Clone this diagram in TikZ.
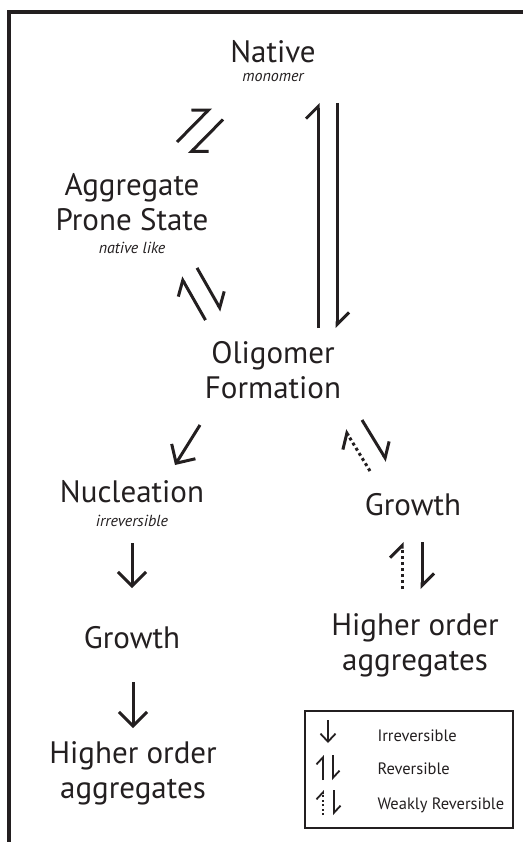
\documentclass[tikz,border=0pt]{standalone}
\usepackage{fontspec}
\setmainfont{PT Sans}
\usetikzlibrary{arrows.meta,calc,positioning}
\definecolor{ink}{HTML}{231F20}

\begin{document}
\begin{tikzpicture}[x=1pt, y=-1pt, draw=ink, line width=3pt,
   state/.style={text=ink, font=\fontsize{31}{35}\selectfont, align=center, inner sep=0pt, anchor=base},
   note/.style={text=ink, font=\fontsize{16}{18}\selectfont\itshape, inner sep=0pt, anchor=base},
   keytext/.style={text=ink, font=\fontsize{16.5}{18}\selectfont, inner sep=0pt, anchor=base west},
   oneway/.style={-{Straight Barb[length=14pt, width=28pt]}},
   harp/.style={-{Straight Barb[left, length=12pt, width=24pt]}},
   weak/.style={harp, dash pattern=on 3pt off 3pt},
   keyway/.style={line width=1.8pt, -{Straight Barb[length=8pt, width=15pt]}},
   keyharp/.style={line width=1.8pt, -{Straight Barb[left, length=7pt, width=13pt]}}]
   \useasboundingbox (0,0) rectangle (523,842);
   \draw[line width=3.5pt] (9,842) -- (9,12) -- (523,12);

   % states (base = last line)
   \node[state] (native) at (273,63) {Native};
   \node[note] (monomer) at (273,82) {monomer};
   \node[state] (aps) at (132,230) {Aggregate\\Prone State};
   \node[note] (nativelike) at (132,253) {native like};
   \node[state] (oligomer) at (273,398) {Oligomer\\Formation};
   \node[state] (nucleation) at (132,502) {Nucleation};
   \node[note] (irrev) at (132,526) {irreversible};
   \node[state] (growthL) at (132,648) {Growth};
   \node[state] (higherL) at (133,798) {Higher order\\aggregates};
   \node[state] (growthR) at (413,515) {Growth};
   \node[state] (higherR) at (415,670) {Higher order\\aggregates};

   % arrow ends
   \coordinate (na-top) at (217,113.5);
   \coordinate (na-bot) at (183,148);
   \coordinate (ao-top) at (189,272.5);
   \coordinate (ao-bot) at (213.5,315.5);
   \coordinate (no-top) at (327.5,103);
   \coordinate (no-bot) at (327.5,328);
   \coordinate (og-top) at (353.5,425);
   \coordinate (og-bot) at (378.5,466);
   \coordinate (gh-top) at (412,542);
   \coordinate (gh-bot) at (412,589);
   \coordinate (on-top) at (200,425);
   \coordinate (on-bot) at (175,465);
   \coordinate (ng-top) at (132,543);
   \coordinate (ng-bot) at (132,588);
   \coordinate (gh2-top) at (133,682);
   \coordinate (gh2-bot) at (133,728);

   \draw[harp] ($(na-bot)+(-6,-6)$) -- ($(na-top)+(-6,-6)$);
   \draw[harp] ($(na-top)+(6,6)$) -- ($(na-bot)+(6,6)$);
   \draw[harp] ($(ao-bot)+(-8,4.6)$) -- ($(ao-top)+(-8,4.6)$);
   \draw[harp] ($(ao-top)+(8,-4.6)$) -- ($(ao-bot)+(8,-4.6)$);
   \draw[harp] ($(no-bot)+(-9.5,0)$) -- ($(no-top)+(-9.5,0)$);
   \draw[harp] ($(no-top)+(9.5,0)$) -- ($(no-bot)+(9.5,0)$);
   \draw[weak] ($(og-bot)+(-8.5,5)$) -- ($(og-top)+(-8.5,5)$);
   \draw[harp] ($(og-top)+(8.5,-5)$) -- ($(og-bot)+(8.5,-5)$);
   \draw[weak] ($(gh-bot)+(-10,0)$) -- ($(gh-top)+(-10,0)$);
   \draw[harp] ($(gh-top)+(10,0)$) -- ($(gh-bot)+(10,0)$);
   \draw[oneway] (on-top) -- (on-bot);
   \draw[oneway] (ng-top) -- (ng-bot);
   \draw[oneway] (gh2-top) -- (gh2-bot);

   % key
   \node[draw, line width=1.5pt, minimum width=208pt, minimum height=117pt, inner sep=0pt] (key) at (409,769.5) {};
   \coordinate (k1-top) at (328,720);
   \coordinate (k1-bot) at (328,743);
   \coordinate (k2-top) at (328,755);
   \coordinate (k2-bot) at (328,780);
   \coordinate (k3-top) at (328.5,790);
   \coordinate (k3-bot) at (328.5,815);
   \draw[keyway] (k1-top) -- (k1-bot);
   \draw[keyharp] ($(k2-bot)+(-5,0)$) -- ($(k2-top)+(-5,0)$);
   \draw[keyharp] ($(k2-top)+(5,0)$) -- ($(k2-bot)+(5,0)$);
   \draw[keyharp, dash pattern=on 2pt off 2.5pt] ($(k3-bot)+(-5.5,0)$) -- ($(k3-top)+(-5.5,0)$);
   \draw[keyharp] ($(k3-top)+(5.5,0)$) -- ($(k3-bot)+(5.5,0)$);
   \node[keytext] (irrevkey) at (376,741) {Irreversible};
   \node[keytext] (revkey) at (376,774) {Reversible};
   \node[keytext] (weakkey) at (376,809) {Weakly Reversible};
\end{tikzpicture}
\end{document}
